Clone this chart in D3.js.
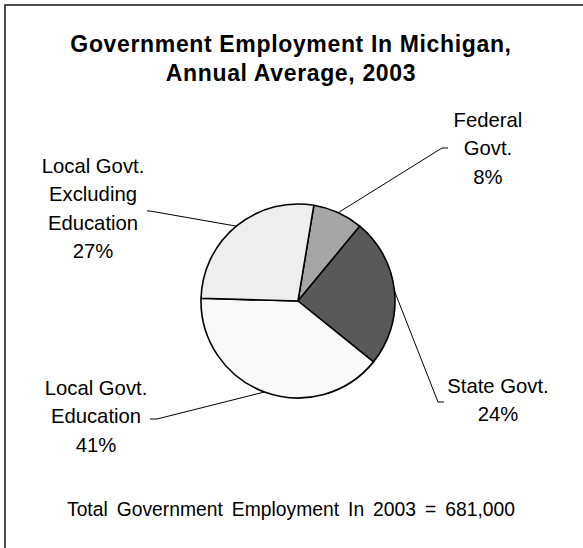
<!DOCTYPE html>
<html>
<head>
<meta charset="utf-8">
<script src="https://cdn.jsdelivr.net/npm/d3@7/dist/d3.min.js"></script>
<style>
  html, body { margin: 0; padding: 0; background: #fff; }
  svg { display: block; font-family: "Liberation Sans", Arial, sans-serif; }
</style>
</head>
<body>
<svg id="chart" width="583" height="548"></svg>
<script>
// ---- data ----
const categories = ["Federal Govt.", "State Govt.", "Local Govt. Education", "Local Govt. Excluding Education"];
const employment = [57, 169, 270, 185];          // thousands
const pctLabels = ["8%", "24%", "41%", "27%"];
const labelLines = [
  ["Federal", "Govt.", "8%"],
  ["State Govt.", "24%"],
  ["Local Govt.", "Education", "41%"],
  ["Local Govt.", "Excluding", "Education", "27%"]
];
const titleLines = ["Government Employment In Michigan,", "Annual Average, 2003"];
const footer = "Total Government Employment In 2003 = 681,000";
const colors = ["#a6a6a6", "#595959", "#f9f9f9", "#eeeeee"];

// ---- layout ----
const svg = d3.select("#chart");
const cx = 298, cy = 301, r = 97;
const startDeg = 9.4;

svg.append("rect").attr("x", 5).attr("y", 5).attr("width", 700).attr("height", 700)
  .attr("fill", "none").attr("stroke", "#222").attr("stroke-width", 1.6);

svg.append("g").selectAll("text").data(titleLines).join("text")
  .attr("x", 291).attr("y", (d, i) => 52 + i * 29)
  .attr("text-anchor", "middle").attr("font-weight", "bold").attr("font-size", 23)
  .attr("letter-spacing", 0.65)
  .attr("fill", "#000").text(d => d);

const pie = d3.pie().sort(null).value(d => d)
  .startAngle(startDeg * Math.PI / 180)
  .endAngle(startDeg * Math.PI / 180 + 2 * Math.PI);
const arcs = pie(employment);
const arc = d3.arc().innerRadius(0).outerRadius(r);

const g = svg.append("g").attr("transform", `translate(${cx},${cy})`);
g.selectAll("path").data(arcs).join("path")
  .attr("d", arc).attr("fill", (d, i) => colors[i])
  .attr("stroke", "#000").attr("stroke-width", 1.6).attr("stroke-linejoin", "round");

// label placement (elbow point, horizontal end, label centre x, first baseline)
const labelLayout = [
  { elbow: [442, 148], end: [448, 148], lx: 488, ly: 127 },
  { elbow: [438, 402], end: [444, 402], lx: 498, ly: 393 },
  { elbow: [157, 419], end: [150, 419], lx: 96, ly: 395 },
  { elbow: [150, 211], end: [147, 211], lx: 93, ly: 173 }
];
const lh = 28.4;

arcs.forEach((a, i) => {
  const mid = (a.startAngle + a.endAngle) / 2;
  const sx = cx + r * Math.sin(mid), sy = cy - r * Math.cos(mid);
  const L = labelLayout[i];
  svg.append("polyline")
    .attr("points", [[sx, sy], L.elbow, L.end].map(p => p.join(",")).join(" "))
    .attr("fill", "none").attr("stroke", "#000").attr("stroke-width", 1);
  svg.append("g").selectAll("text").data(labelLines[i]).join("text")
    .attr("x", L.lx).attr("y", (d, j) => L.ly + j * lh)
    .attr("text-anchor", "middle").attr("font-size", 20.3).attr("fill", "#000")
    .text(d => d);
});

const ft = svg.append("text").attr("x", 67).attr("y", 516)
  .attr("font-size", 19.3).attr("fill", "#000").text(footer);
const w = ft.node().getComputedTextLength();
const target = 448;
const spaces = footer.split(" ").length - 1;
ft.attr("word-spacing", Math.max(0, (target - w) / spaces));
</script>
</body>
</html>
